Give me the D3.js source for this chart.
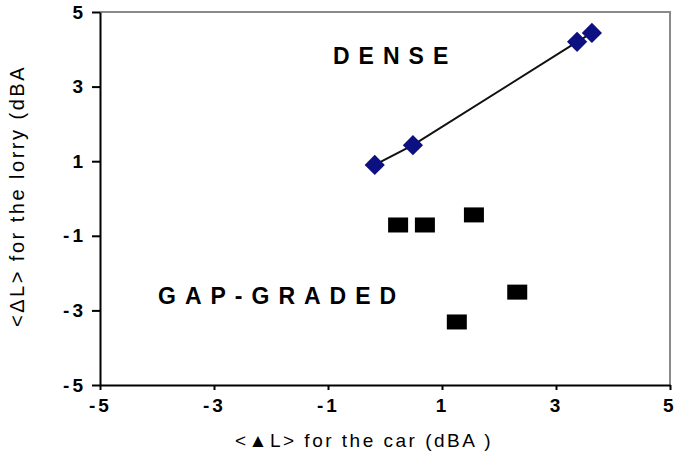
<!DOCTYPE html>
<html>
<head>
<meta charset="utf-8">
<script src="https://cdn.jsdelivr.net/npm/d3@7"></script>
<style>
  body { margin: 0; background: #fff; }
  text { font-family: "Liberation Sans", Arial, sans-serif; }
</style>
</head>
<body>
<div id="chart"></div>
<script>
// dense mixes (blue diamonds)
const denseCar   = [-0.18, 0.49, 3.37, 3.63];
const denseLorry = [0.90, 1.43, 4.20, 4.44];

// gap-graded mixes (black squares)
const gapCar   = [0.23, 0.70, 1.56, 2.32, 1.26];
const gapLorry = [-0.71, -0.71, -0.44, -2.51, -3.31];

const tickVals = [-5, -3, -1, 1, 3, 5];

const width = 675;
const height = 466;
const svg = d3.select('#chart')
              .append("svg")
              .attr('width', width)
              .attr('height', height);

let x = d3.scaleLinear().domain([-5, 5]).range([100, 670]);
let y = d3.scaleLinear().domain([-5, 5]).range([385, 12]);

// grey plot frame (top + right)
svg.append("path")
   .attr("d", "M" + x(-5) + "," + y(5) + "H" + x(5) + "V" + y(-5))
   .attr("fill", "none")
   .attr("stroke", "#8a8a8a")
   .attr("stroke-width", 2);

let xAxis = svg.append("g")
   .attr("transform", "translate(0," + y(-5) + ")")
   .call(d3.axisBottom(x).tickValues(tickVals).tickSize(5).tickSizeOuter(0).tickFormat(d => d));
let yAxis = svg.append("g")
   .attr("transform", "translate(" + x(-5) + ",0)")
   .call(d3.axisLeft(y).tickValues(tickVals).tickSize(8).tickSizeOuter(0).tickFormat(d => d));

[xAxis, yAxis].forEach(function(a){
  a.select(".domain").attr("stroke", "#000").attr("stroke-width", 2);
  a.selectAll(".tick line").attr("stroke", "#000").attr("stroke-width", 2);
  a.selectAll(".tick text")
   .attr("fill", "#000")
   .style("font-size", "19px")
   .style("font-weight", "bold")
   .style("letter-spacing", "3px");
});
xAxis.selectAll(".tick text").attr("dy", "1.0em");
// last label sits against the right edge
xAxis.selectAll(".tick text").filter(d => d === 5)
   .attr("text-anchor", "end").attr("x", 6);
yAxis.selectAll(".tick text").attr("x", -14);

// trend line through the dense points
let densePts = denseCar.map((d, i) => [d, denseLorry[i]]);
svg.append("path")
   .datum(densePts)
   .attr("d", d3.line().x(d => x(d[0])).y(d => y(d[1])))
   .attr("fill", "none")
   .attr("stroke", "#111")
   .attr("stroke-width", 2);

svg.append("g")
   .selectAll("path")
   .data(densePts)
   .join("path")
     .attr("transform", d => "translate(" + x(d[0]) + "," + y(d[1]) + ")")
     .attr("d", d3.symbol().type(d3.symbolDiamond2).size(260))
     .attr("fill", "#0d1080");

let gapPts = gapCar.map((d, i) => [d, gapLorry[i]]);
svg.append("g")
   .selectAll("rect")
   .data(gapPts)
   .join("rect")
     .attr("x", d => x(d[0]) - 10)
     .attr("y", d => y(d[1]) - 7.5)
     .attr("width", 20)
     .attr("height", 15)
     .attr("fill", "#000");

// in-plot labels
svg.append("text")
   .attr("x", 333).attr("y", 64)
   .style("font-size", "23px").style("font-weight", "bold")
   .style("letter-spacing", "9px")
   .text("DENSE");
svg.append("text")
   .attr("x", 158).attr("y", 304)
   .style("font-size", "23px").style("font-weight", "bold")
   .style("letter-spacing", "9px")
   .text("GAP-GRADED");

// axis titles
svg.append("text")
   .attr("x", 364).attr("y", 447)
   .attr("text-anchor", "middle")
   .style("font-size", "19px")
   .style("letter-spacing", "2.5px")
   .text("<▲L> for the car (dBA )");
svg.append("text")
   .attr("transform", "translate(24,196) rotate(-90)")
   .attr("text-anchor", "middle")
   .style("font-size", "20px")
   .style("letter-spacing", "2.5px")
   .text("<ΔL> for the lorry (dBA");
</script>
</body>
</html>
